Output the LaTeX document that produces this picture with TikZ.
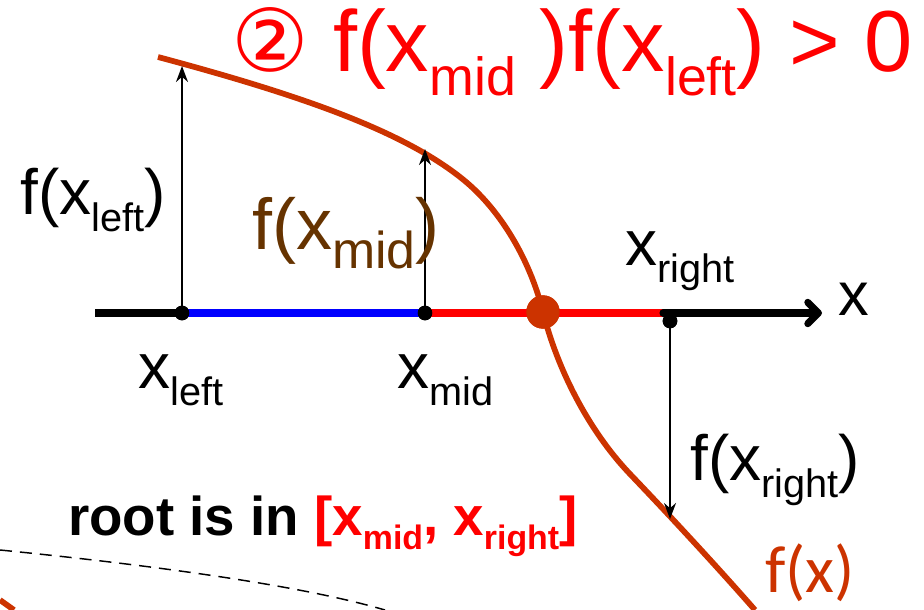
\documentclass[tikz,border=0pt]{standalone}
\usepackage{fontspec}
\usepackage{graphicx}
\setmainfont{Liberation Sans}
\newfontfamily\djv{DejaVu Sans}
\newfontfamily\crl{Carlito}
\usetikzlibrary{arrows.meta}
\definecolor{curveor}{RGB}{204,51,0}
\definecolor{brownish}{RGB}{102,51,0}
\newcommand{\sbx}[1]{\raisebox{-0.27em}{\scalebox{0.62}{#1}}}
\newcommand{\sbxb}[1]{\raisebox{-0.27em}{\scalebox{0.72}{#1}}}
\newcommand{\fsz}[1]{\fontsize{#1}{#1}\selectfont}
\begin{document}
\begin{tikzpicture}[x=0.75pt,y=-0.75pt,
  txt/.style={inner sep=0pt,anchor=base west},
  smalldot/.style={circle,fill=black,inner sep=0pt,minimum size=11pt},
  vecarrow/.style={line width=1.4pt,-{Stealth[length=12pt,width=9pt]}},
  axisline/.style={line width=5.3pt}]
\useasboundingbox (0,0) rectangle (924,610);
% curve
\draw[curveor,line width=4.3pt] (158,57) .. controls (300,95) and (400,130) .. (460,177)
  .. controls (500,208) and (530,260) .. (543,312)
  .. controls (557,368) and (588,430) .. (630,474)
  .. controls (672,518) and (720,570) .. (755,610);
\draw[curveor,line width=4.3pt] (0,600) -- (14,610);
% dashed
\draw[line width=1.1pt,dash pattern=on 9pt off 6pt] (0,550) .. controls (150,565) and (300,585) .. (385,610);
% axis
\coordinate (ax0) at (95,313);
\coordinate (redend) at (663,313);
\coordinate (axend) at (822,313);
\node[smalldot] (xl) at (182,313) {};
\node[smalldot] (xm) at (425,313) {};
\node[smalldot] (xr) at (670,321) {};
\node[circle,fill=curveor,inner sep=0pt,minimum size=25pt] (rootdot) at (543,312) {};
\draw[axisline] (ax0) -- (xl.center);
\draw[axisline,blue] (xl.center) -- (xm.center);
\draw[axisline,red] (xm.center) -- (redend);
\draw[axisline,-{Straight Barb[length=8pt,width=16pt,line cap=round,line join=round]},line cap=round] (redend) -- (axend);
\node[smalldot] at (xl) {};
\node[smalldot] at (xm) {};
\node[smalldot] at (xr) {};
\node[circle,fill=curveor,inner sep=0pt,minimum size=25pt] at (rootdot) {};
% arrows
\coordinate (cl) at (182,66);
\coordinate (cm) at (425,149);
\coordinate (cr) at (670,519);
\draw[vecarrow] (xl.center) -- (cl);
\draw[vecarrow] (xm.center) -- (cm);
\draw[vecarrow] (xr.center) -- (cr);
% texts
\node[txt,red] (title) at (231,72) {\fsz{65pt}{\djv ②} f(x\sbx{mid} )f(x\sbx{left}) > 0};
\node[txt] (fl) at (20,214) {\fsz{48pt}f(x\sbx{left})};
\node[txt,brownish] (fm) at (252,249) {\fsz{54pt}f(x\sbxb{mid})};
\node[txt] (lxl) at (138,388) {\fsz{48pt}x\sbx{left}};
\node[txt] (lxm) at (397,388) {\fsz{48pt}x\sbx{mid}};
\node[txt] (lxr) at (625,265) {\fsz{48pt}x\sbx{right}};
\node[txt] (lx) at (838,315) {\fsz{46pt}x};
\node[txt] (fr) at (690,480) {\fsz{48pt}f(x\sbx{right})};
\node[txt,curveor] (fx) at (765,592) {\fsz{50pt}\crl f(x)};
\node[txt] (roottxt) at (68,535) {\fsz{41pt}\bfseries root is in \textcolor{red}{[x\sbx{mid}, x\sbx{right}]}};
\end{tikzpicture}
\end{document}
